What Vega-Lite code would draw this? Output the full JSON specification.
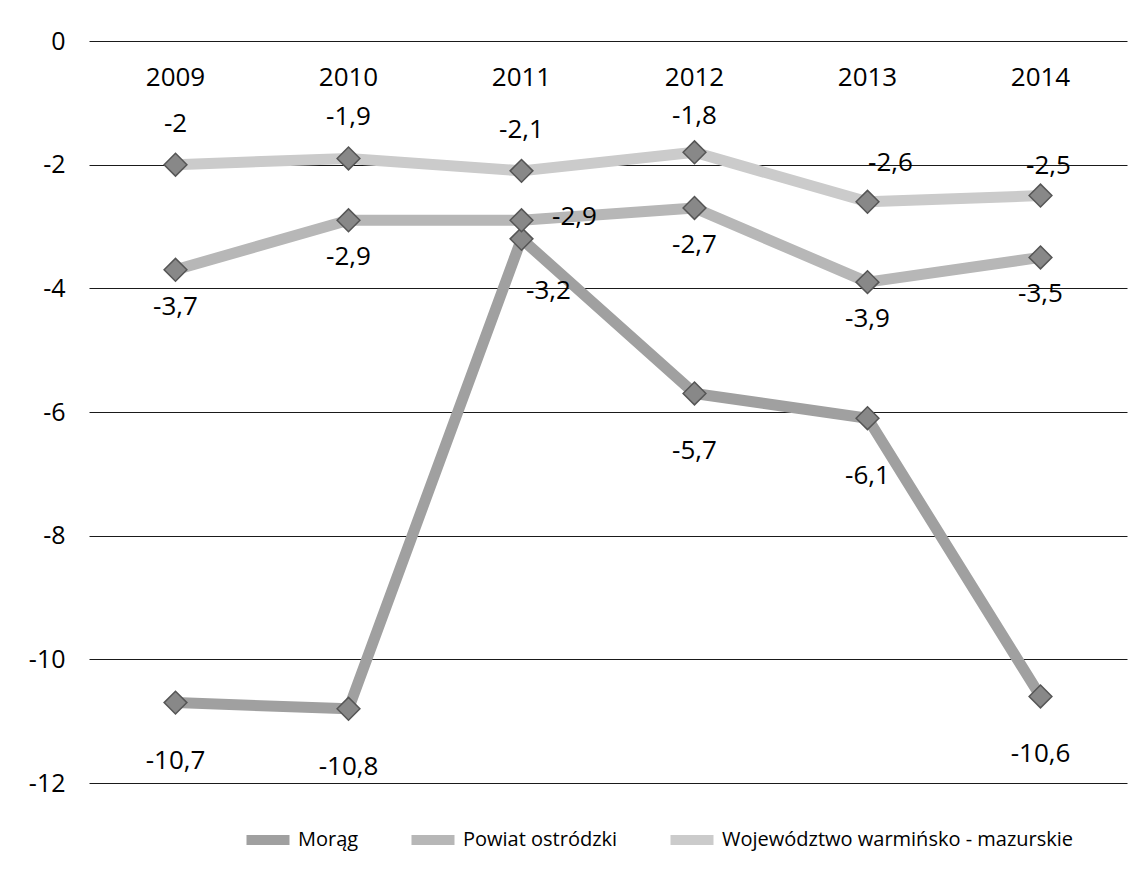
{
  "$schema": "https://vega.github.io/schema/vega-lite/v6.json",
  "width": 1038,
  "height": 742,
  "autosize": {"type": "none"},
  "padding": {"left": 89, "top": 41, "right": 14, "bottom": 87},
  "background": "white",
  "config": {
    "view": {"stroke": null},
    "font": "Open Sans",
    "locale": {"number": {"decimal": ",", "thousands": " ", "grouping": [3], "currency": ["", " zł"], "minus": "-"}}
  },
  "data": {"values": [
    {"year": "2009", "series": "Morąg", "value": -10.7},
    {"year": "2010", "series": "Morąg", "value": -10.8},
    {"year": "2011", "series": "Morąg", "value": -3.2},
    {"year": "2012", "series": "Morąg", "value": -5.7},
    {"year": "2013", "series": "Morąg", "value": -6.1},
    {"year": "2014", "series": "Morąg", "value": -10.6},
    {"year": "2009", "series": "Powiat ostródzki", "value": -3.7},
    {"year": "2010", "series": "Powiat ostródzki", "value": -2.9},
    {"year": "2011", "series": "Powiat ostródzki", "value": -2.9},
    {"year": "2012", "series": "Powiat ostródzki", "value": -2.7},
    {"year": "2013", "series": "Powiat ostródzki", "value": -3.9},
    {"year": "2014", "series": "Powiat ostródzki", "value": -3.5},
    {"year": "2009", "series": "Województwo warmińsko - mazurskie", "value": -2.0},
    {"year": "2010", "series": "Województwo warmińsko - mazurskie", "value": -1.9},
    {"year": "2011", "series": "Województwo warmińsko - mazurskie", "value": -2.1},
    {"year": "2012", "series": "Województwo warmińsko - mazurskie", "value": -1.8},
    {"year": "2013", "series": "Województwo warmińsko - mazurskie", "value": -2.6},
    {"year": "2014", "series": "Województwo warmińsko - mazurskie", "value": -2.5}
  ]},
  "encoding": {
    "x": {
      "field": "year", "type": "nominal", "sort": null,
      "scale": {"type": "band", "paddingInner": 0, "paddingOuter": 0},
      "axis": {"orient": "top", "title": null, "domain": false, "ticks": false, "grid": false,
               "labelAngle": 0, "labelBaseline": "middle", "labelPadding": -36,
               "labelFontSize": 26, "labelColor": "#000000", "labelFont": "Open Sans"}
    },
    "y": {
      "field": "value", "type": "quantitative",
      "scale": {"domain": [-12, 0], "nice": false, "zero": false},
      "axis": {"title": null, "domain": false, "ticks": false, "values": [0, -2, -4, -6, -8, -10, -12],
               "grid": true, "gridColor": "#1a1a1a", "gridWidth": 1, "gridOpacity": 1,
               "labelFontSize": 25, "labelColor": "#000000", "labelPadding": 24, "format": ""}
    }
  },
  "layer": [
    {
      "mark": {"type": "line", "strokeWidth": 11, "strokeCap": "butt", "strokeJoin": "round"},
      "encoding": {
        "color": {
          "field": "series", "type": "nominal",
          "scale": {"domain": ["Morąg", "Powiat ostródzki", "Województwo warmińsko - mazurskie"],
                    "range": ["#a0a0a0", "#b7b7b7", "#cbcbcb"]},
          "legend": {"title": null, "orient": "none", "direction": "horizontal",
                     "legendX": 152, "legendY": 772,
                     "symbolType": "stroke", "symbolStrokeWidth": 10, "symbolSize": 1850,
                     "labelFontSize": 20, "labelColor": "#000000", "labelOffset": 3,
                     "columnPadding": 32, "labelLimit": 600}
        }
      }
    },
    {
      "mark": {"type": "point", "shape": "diamond", "filled": true, "size": 520,
               "color": "#888888", "stroke": "#555555", "strokeWidth": 1.5, "opacity": 1}
    },
    {
      "transform": [{"filter": "datum.series === 'Województwo warmińsko - mazurskie' && (datum.year === '2009' || datum.year === '2010' || datum.year === '2011')"}],
      "mark": {"type": "text", "fontSize": 26, "color": "#000000", "dy": -41},
      "encoding": {"text": {"field": "value", "type": "quantitative", "format": ""}}
    },
    {
      "transform": [{"filter": "datum.series === 'Województwo warmińsko - mazurskie' && datum.year === '2012'"}],
      "mark": {"type": "text", "fontSize": 26, "color": "#000000", "dy": -36},
      "encoding": {"text": {"field": "value", "type": "quantitative", "format": ""}}
    },
    {
      "transform": [{"filter": "datum.series === 'Województwo warmińsko - mazurskie' && datum.year === '2013'"}],
      "mark": {"type": "text", "fontSize": 26, "color": "#000000", "dx": 23, "dy": -39},
      "encoding": {"text": {"field": "value", "type": "quantitative", "format": ""}}
    },
    {
      "transform": [{"filter": "datum.series === 'Województwo warmińsko - mazurskie' && datum.year === '2014'"}],
      "mark": {"type": "text", "fontSize": 26, "color": "#000000", "dx": 8, "dy": -30},
      "encoding": {"text": {"field": "value", "type": "quantitative", "format": ""}}
    },
    {
      "transform": [{"filter": "datum.series === 'Powiat ostródzki' && datum.year !== '2011'"}],
      "mark": {"type": "text", "fontSize": 26, "color": "#000000", "dy": 37},
      "encoding": {"text": {"field": "value", "type": "quantitative", "format": ""}}
    },
    {
      "transform": [{"filter": "datum.series === 'Powiat ostródzki' && datum.year === '2011'"}],
      "mark": {"type": "text", "fontSize": 26, "color": "#000000", "dx": 53, "dy": -3},
      "encoding": {"text": {"field": "value", "type": "quantitative", "format": ""}}
    },
    {
      "transform": [{"filter": "datum.series === 'Morąg' && datum.year !== '2011'"}],
      "mark": {"type": "text", "fontSize": 26, "color": "#000000", "dy": 58},
      "encoding": {"text": {"field": "value", "type": "quantitative", "format": ""}}
    },
    {
      "transform": [{"filter": "datum.series === 'Morąg' && datum.year === '2011'"}],
      "mark": {"type": "text", "fontSize": 26, "color": "#000000", "dx": 27, "dy": 52},
      "encoding": {"text": {"field": "value", "type": "quantitative", "format": ""}}
    }
  ]
}
